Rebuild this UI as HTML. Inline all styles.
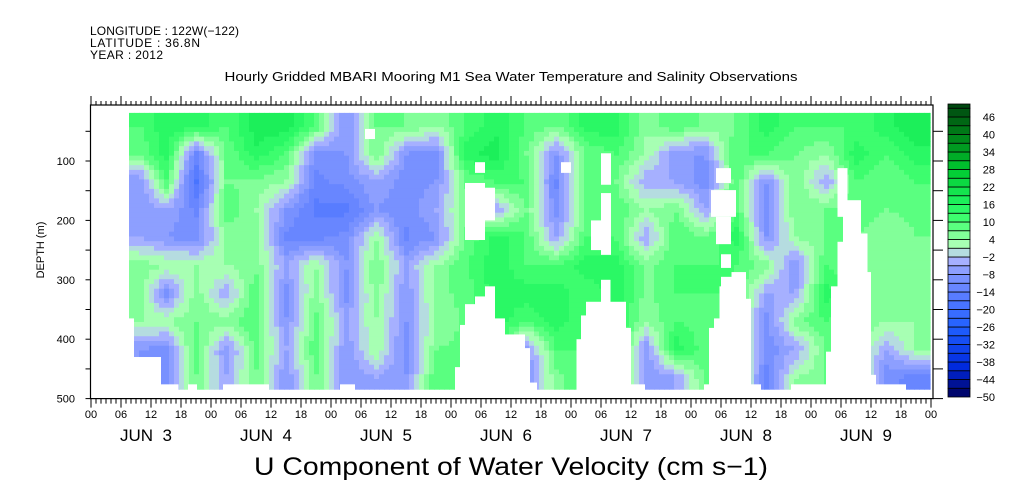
<!DOCTYPE html>
<html><head><meta charset="utf-8"><style>
body{margin:0;background:#fff;}
svg{display:block;font-family:"Liberation Sans",sans-serif;}
</style></head><body>
<svg id="chart" width="1009" height="504" viewBox="0 0 1009 504" xmlns="http://www.w3.org/2000/svg">
<g font-size="12" fill="#000">
<text x="90" y="35" textLength="149">LONGITUDE : 122W(−122)</text>
<text x="90" y="47" textLength="110">LATITUDE : 36.8N</text>
<text x="90" y="59" textLength="73">YEAR : 2012</text>
</g>
<text x="511" y="81" text-anchor="middle" font-size="13" textLength="573" lengthAdjust="spacingAndGlyphs">Hourly Gridded MBARI Mooring M1 Sea Water Temperature and Salinity Observations</text>
<g id="heat"></g>
<g id="gaps"></g>
<g id="axes" stroke="#000" fill="none"></g>
<g id="labels" font-size="11" fill="#000"></g>
<text transform="translate(44,250) rotate(-90)" text-anchor="middle" font-size="11">DEPTH (m)</text>
<text x="511" y="475" text-anchor="middle" font-size="25" textLength="514" lengthAdjust="spacingAndGlyphs">U Component of Water Velocity (cm s−1)</text>
<g id="cbar"></g>
</svg>
<script>
// ---- data ----
const colStartHours = [7.6,12,18,24,30,36,42,48,54,60,66,72,78,84,90,96,102,108,114,120,126,132,138,144,150,156,162];
const dataEndHour = 167.8;
const rowDepths = [41,88,135,182,229,276,323,370,417,464];
const depthTop = 19, depthBottom = 484;
const uValues = [
[10,7,-8,-8,-5,6,6,4,-8,-8],
[15,15,10,-5,-8,4,-10,4,-10,-10],
[15,-12,-18,-12,-10,4,6,7,10,7],
[10,7,7,10,4,4,-5,6,-8,-5],
[18,15,6,4,6,6,10,10,8,7],
[18,10,4,-8,-12,-5,-10,-8,-5,-8],
[10,-10,-12,-15,-12,4,6,8,10,7],
[-8,-8,-10,-15,-10,-8,-10,-5,-8,-8],
[7,7,-5,-8,4,7,6,4,4,-5],
[7,-8,-10,-10,-12,-5,-8,-8,-10,-8],
[4,-10,-8,-5,-8,4,6,4,7,10],
[10,15,7,7,7,10,8,8,8,8],
[15,18,10,-5,15,15,15,15,15,15],
[10,7,10,7,10,10,15,10,-8,-8],
[7,-8,-12,-10,-5,10,15,15,10,6],
[15,7,10,7,10,15,10,10,10,10],
[15,10,7,10,10,15,15,15,15,15],
[4,4,-5,4,-5,6,6,4,-8,-8],
[10,-8,-5,7,10,10,10,10,15,-5],
[6,-8,-10,-5,7,10,10,8,8,8],
[7,10,10,10,15,10,10,10,10,10],
[15,10,-8,-10,-8,6,-5,-10,-10,-12],
[10,7,7,7,4,-8,-5,6,-5,4],
[10,4,-5,7,7,10,15,10,7,7],
[10,15,10,10,7,8,7,7,7,7],
[15,10,7,7,4,4,6,4,-5,-10],
[18,15,10,8,7,4,4,4,4,-12]
];
const gaps = [
[7.6,8.6,365,490],[7.6,14,430,490],[7.6,17.5,476,490],[54.8,56.8,46,63],
[19.4,21.2,476,490],[26.4,35.6,476,490],[49.8,52.8,476,490],
[76.8,78.8,102,120],[74.8,78.8,137,233],[78.8,80.8,145,200],[94,96,102,120],
[102,104,87,140],[102,104,154,258],[100,102,200,250],
[78.8,80.8,311,490],[76.8,78.8,328,490],[74.8,76.8,341,490],[73.8,74.8,376,490],[72.8,73.8,447,490],
[80.8,82.8,365,490],[82.8,86.8,392,490],[86.8,87.8,415,490],[83.8,89.2,473,490],
[102,103.9,300,490],[99,102,337,490],[98,99,360,490],[97.1,98,400,490],[103.9,107,337,490],[107,108,381,490],[108,110.8,476,490],
[125,128,112,137],[124,129,149,194],[125,128,194,240],[126,128,257,280],
[128.1,131,287,490],[126,128.1,295,490],[125.7,126,311,490],[124.6,125.7,365,490],[123.6,124.6,381,490],[131,132,332,490],[132,134,476,490],[122.6,123.6,476,490],[140,144,476,490],
[149.3,151.3,112,194],[150.4,154,166,490],[149.3,150.4,236,490],[154,155.3,222,490],[155.3,156,287,490],[148,149.3,311,490],[147,148,421,490],[144,147,476,490],[156,157,460,490],[157,163,476,490]
];
const depthTicks = [100,200,300,400,500];
const hourLabels = ["00","06","12","18"];
const dayLabels = ["JUN  3","JUN  4","JUN  5","JUN  6","JUN  7","JUN  8","JUN  9"];
const cbarLabels = [46,40,34,28,22,16,10,4,-2,-8,-14,-20,-26,-32,-38,-44,-50];

// ---- scales ----
const X = h => 91 + 5*h;
const Y = d => 101.6 + 0.594*d;
const CB = v => 397 - (v+50)*2.917;
const NS = "http://www.w3.org/2000/svg";
function mk(tag, attrs, parent){const e=document.createElementNS(NS,tag);for(const k in attrs)e.setAttribute(k,attrs[k]);parent.appendChild(e);return e;}

const stops=[[-50,[0,0,90]],[-40,[0,40,220]],[-26,[32,96,255]],[-14,[96,128,255]],[-8,[128,150,255]],[-2,[178,184,255]],[1,[184,255,192]],[4,[150,255,165]],[10,[70,255,115]],[16,[32,245,96]],[28,[0,200,48]],[40,[0,128,24]],[50,[0,72,16]]];
function colorFor(v){
  let b=Math.floor((v+50)/3); b=Math.max(0,Math.min(33,b)); const m=-50+b*3+1.5;
  for(let i=0;i<stops.length-1;i++){const a=stops[i],c=stops[i+1];
    if(m<=c[0]){const t=Math.max(0,(m-a[0])/(c[0]-a[0]));return "rgb("+a[1].map((q,j)=>Math.round(q+(c[1][j]-q)*t)).join(",")+")";}}
  return "rgb(0,72,16)";
}
const colCenters = colStartHours.map((h,i)=>(h+(i<colStartHours.length-1?colStartHours[i+1]:dataEndHour))/2);
function interp(arr,v){if(v<=arr[0])return [0,0,0];const n=arr.length;if(v>=arr[n-1])return [n-1,n-1,0];
  for(let i=0;i<n-1;i++)if(v<=arr[i+1])return [i,i+1,(v-arr[i])/(arr[i+1]-arr[i])];}
function valueAt(h,d){const [c0,c1,tc]=interp(colCenters,h),[r0,r1,tr]=interp(rowDepths,d);
  const a=uValues[c0][r0]*(1-tr)+uValues[c0][r1]*tr,b=uValues[c1][r0]*(1-tr)+uValues[c1][r1]*tr;return a*(1-tc)+b*tc;}

// ---- heatmap ----
const heat=document.getElementById('heat');
const dh=1, dd=8;
for(let h=colStartHours[0];h<dataEndHour;h+=dh){
  const h1=Math.min(h+dh,dataEndHour);
  for(let d=depthTop;d<depthBottom;d+=dd){
    const d1=Math.min(d+dd,depthBottom);
    const r=mk('rect',{x:X(h).toFixed(2),y:Y(d).toFixed(2),width:(X(h1)-X(h)+0.6).toFixed(2),height:(Y(d1)-Y(d)+0.6).toFixed(2),fill:colorFor(valueAt(h+dh/2,d+dd/2))},heat);
    
    
  }
}
const gg=document.getElementById('gaps');
gaps.forEach(g=>{const r=mk('rect',{x:X(g[0]),y:Y(g[2]),width:X(g[1])-X(g[0]),height:Math.min(Y(g[3]),Y(depthBottom)+1)-Y(g[2]),fill:'#fff'},gg);
  
  });

// ---- axes ----
const ax=document.getElementById('axes');
const L=X(0)-0.5,R=X(168)+2,T=105,B=Y(500);
mk('rect',{x:L,y:T,width:R-L,height:B-T,'stroke-width':1.2},ax);
for(let h=0;h<=168;h++){const x=X(h),maj=h%6===0;
  mk('line',{x1:x,y1:T,x2:x,y2:T-(maj?9:4)},ax);
  mk('line',{x1:x,y1:B,x2:x,y2:B+(maj?9:5)},ax);}
for(let d=50;d<=500;d+=50){const y=Y(d);
  mk('line',{x1:L,y1:y,x2:L-5,y2:y},ax);
  mk('line',{x1:R,y1:y,x2:R+10,y2:y},ax);}
const lb=document.getElementById('labels');
depthTicks.forEach(d=>{const t=mk('text',{x:75,y:Y(d)+4,'text-anchor':'end'},lb);t.textContent=d;
  
  });
for(let h=0;h<=168;h+=6){const t=mk('text',{x:X(h),y:418,'text-anchor':'middle'},lb);t.textContent=hourLabels[(h/6)%4];
  
  }
dayLabels.forEach((s,i)=>{const t=mk('text',{x:X(24*i+12)-5,y:441,'text-anchor':'middle','font-size':17},lb);t.textContent=s;t.style.whiteSpace='pre';
  
  });

// ---- colorbar ----
const cb=document.getElementById('cbar');
for(let b=0;b<34;b++){const v0=-50+3*b,v1=v0+3;const y1=Math.max(104,CB(v1));
  const r=mk('rect',{x:948,y:y1,width:22,height:CB(v0)-y1,fill:colorFor(v0+1.5),stroke:'#000','stroke-width':0.8},cb);
  
  }
cbarLabels.forEach(v=>{const t=mk('text',{x:995,y:CB(v)+4,'text-anchor':'end','font-size':11},cb);t.textContent=v<0?'−'+(-v):String(v);
  
  });
</script>
</body></html>
